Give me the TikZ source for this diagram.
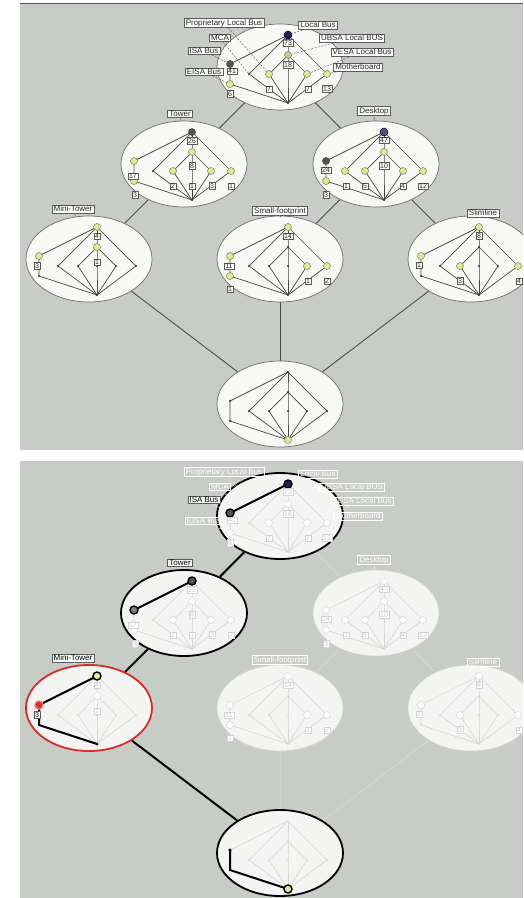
\documentclass[tikz,border=0pt]{standalone}
\usepackage{fontspec}
\setmainfont{Liberation Sans}
\usetikzlibrary{shapes.geometric}
\pgfdeclarelayer{bg}
\pgfsetlayers{bg,main}
\definecolor{bggray}{RGB}{200,204,199}
\definecolor{ellfill}{RGB}{248,248,245}
\definecolor{ellline}{RGB}{110,110,110}
\definecolor{connc}{RGB}{75,75,75}
\definecolor{latc}{RGB}{70,70,70}
\definecolor{ylw}{RGB}{228,232,150}
\definecolor{ylwg}{RGB}{200,200,150}
\definecolor{ylwline}{RGB}{120,120,80}
\definecolor{dkblue}{RGB}{30,30,95}
\definecolor{mdblue}{RGB}{80,80,145}
\definecolor{dkgray}{RGB}{85,85,85}
\definecolor{numline}{RGB}{90,90,90}
\definecolor{fadec}{RGB}{212,212,212}
\definecolor{fadetext}{RGB}{200,200,200}
\definecolor{ellfilltwo}{RGB}{244,244,242}
\definecolor{hlred}{RGB}{215,45,40}
\newcommand\tagfont{\fontsize{8}{9}\selectfont}
\newcommand\numfont{\fontsize{7}{8}\selectfont}
\tikzset{
  ell/.style={ellipse, draw=ellline, fill=ellfill, line width=0.7, minimum width=126, minimum height=86, inner sep=0},
  lat/.style={draw=latc, line width=0.7},
  conn/.style={draw=connc, line width=0.9},
  yn/.style={circle, draw=ylwline, fill=ylw, minimum size=7, inner sep=0, line width=0.5},
  yng/.style={circle, draw=ylwline, fill=ylwg, minimum size=7, inner sep=0, line width=0.5},
  bn/.style={circle, draw=black, fill=dkblue, minimum size=8, inner sep=0, line width=0.5},
  bntwo/.style={circle, draw=black, fill=mdblue, minimum size=8, inner sep=0, line width=0.5},
  gn/.style={circle, draw=black!80, fill=dkgray, minimum size=7, inner sep=0, line width=0.5},
  dn/.style={circle, fill=black!80, minimum size=2.2, inner sep=0},
  num/.style={draw=numline, fill=white, text=black!85, font=\numfont, inner xsep=1.3, inner ysep=0.8, line width=0.5},
  tag/.style={draw=numline, fill=white, text=black!85, font=\tagfont, inner xsep=1.8, inner ysep=0.9, line width=0.5},
  dsh/.style={draw=black!60, dashed, dash pattern=on 2pt off 1.5pt, line width=0.5},
  lk/.style={draw=black!60, line width=0.5},
  hltop/.style={}, hltow/.style={}, hlmini/.style={}, hlbot/.style={},
  hlc/.style={}, hlfix/.style={},
  hlline/.style={draw=black, line width=2},
  hlring/.style={circle, draw=black, line width=1.4, minimum size=8, inner sep=0}
}
\newcommand\mylatt[4]{%
  \begin{scope}[shift={(#2,#3)}]
    \node[ell,#4] (#1E) at (-8,32) {};
    \coordinate (#1T) at (0,0);
    \coordinate (#1A) at (0,20);
    \coordinate (#1X1) at (-58,29);
    \coordinate (#1X2) at (-58,49);
    \coordinate (#1L1) at (-39,39);
    \coordinate (#1L2) at (-19,39);
    \coordinate (#1C) at (0,39);
    \coordinate (#1R2) at (19,39);
    \coordinate (#1R1) at (39,39);
    \coordinate (#1B) at (0,68);
  \end{scope}
  \draw[lat] (#1T) -- (#1X1) -- (#1X2) -- (#1B);
  \draw[lat] (#1T) -- (#1L1) -- (#1B);
  \draw[lat] (#1T) -- (#1A) -- (#1C) -- (#1B);
  \draw[lat] (#1A) -- (#1L2) -- (#1B);
  \draw[lat] (#1A) -- (#1R2) -- (#1B);
  \draw[lat] (#1T) -- (#1R1) -- (#1B);
}
\newcommand\myhl{%
  \draw[hlline] (btopT) -- (btopX1);
  \node[hlring, fill=dkblue] (hA1) at (btopT) {};
  \node[hlring, fill=dkgray] (hA2) at (btopX1) {};
  \draw[hlline] (btowT) -- (btowX1);
  \node[hlring, fill=dkgray] (hB1) at (btowT) {};
  \node[hlring, fill=gray] (hB2) at (btowX1) {};
  \draw[hlline] (bminiT) -- (bminiX1) -- (bminiX2) -- (bminiB);
  \node[hlring, fill=ylw] (hC1) at (bminiT) {};
  \node[hlring, fill=hlred, draw=hlred!60!white] (hC2) at (bminiX1) {};
  \node[circle, fill=black, minimum size=3, inner sep=0] (hC3) at (bminiB) {};
  \draw[hlline] (bbotX1) -- (bbotX2) -- (bbotB);
  \node[circle, fill=black, minimum size=3.5, inner sep=0] (hD1) at (bbotX1) {};
  \node[hlring, fill=ylw] (hD2) at (bbotB) {};
}
\newcommand\myscene[2]{%
  \mylatt{#1top}{288}{35}{hltop}
  \mylatt{#1tow}{192}{132}{hltow}
  \mylatt{#1desk}{384}{132}{}
  \mylatt{#1mini}{97}{227}{hlmini}
  \mylatt{#1small}{288}{227}{}
  \mylatt{#1slim}{479}{227}{}
  \mylatt{#1bot}{288}{372}{hlbot}
  \begin{pgfonlayer}{bg}
    \draw[conn,hlc] (#1topE) -- (#1towE);
    \draw[conn] (#1topE) -- (#1deskE);
    \draw[conn,hlc] (#1towE) -- (#1miniE);
    \draw[conn] (#1deskE) -- (#1smallE);
    \draw[conn] (#1deskE) -- (#1slimE);
    \draw[conn,hlc] (#1miniE) -- (#1botE);
    \draw[conn] (#1smallE) -- (#1botE);
    \draw[conn] (#1slimE) -- (#1botE);
  \end{pgfonlayer}
  % attribute tags of the top concept
  \node[tag] (#1tProp) at (224,23) {Proprietary Local Bus};
  \node[tag] (#1tLoc) at (318,25) {Local Bus};
  \node[tag] (#1tMCA) at (220,38) {MCA};
  \node[tag] (#1tUBSA) at (352,38) {UBSA Local BUS};
  \node[tag,hlfix] (#1tISA) at (204,51) {ISA Bus};
  \node[tag] (#1tVESA) at (362,52) {VESA Local Bus};
  \node[tag] (#1tEISA) at (204,72) {EISA Bus};
  \node[tag] (#1tMoth) at (358,67) {Motherboard};
  \draw[dsh] (#1tProp) -- (#1topL2);
  \draw[dsh] (#1tLoc) -- (#1topT);
  \draw[dsh] (#1tMCA) -- (#1topL1);
  \draw[dsh] (#1tUBSA) -- (#1topA);
  \draw[dsh] (#1tISA) -- (#1topX1);
  \draw[dsh] (#1tVESA) -- (#1topR2);
  \draw[dsh] (#1tEISA) -- (#1topX2);
  \draw[dsh] (#1tMoth) -- (#1topR1);
  % ellipse tags
  \node[tag,hlfix] (#1tTow) at (180,114) {Tower};
  \node[tag] (#1tDesk) at (374,111) {Desktop};
  \node[tag,hlfix] (#1tMini) at (73,209) {Mini-Tower};
  \node[tag] (#1tSmall) at (280,211) {Small-footprint};
  \node[tag] (#1tSlim) at (483,213) {Slimline};
  \draw[lk] (#1tTow) -- (#1towE);
  \draw[lk] (#1tDesk) -- (#1deskE);
  \draw[lk] (#1tMini) -- (#1miniE);
  \draw[lk] (#1tSmall) -- (#1smallE);
  \draw[lk] (#1tSlim) -- (#1slimE);
  % markers: top
  \node[bn] (#1topTn) at (#1topT) {};
  \node[yng] (#1topAn) at (#1topA) {};
  \node[gn] (#1topX1n) at (#1topX1) {};
  \node[yn] (#1topX2n) at (#1topX2) {};
  \node[dn] (#1topL1n) at (#1topL1) {};
  \node[yn] (#1topL2n) at (#1topL2) {};
  \node[yn] (#1topR2n) at (#1topR2) {};
  \node[yn] (#1topR1n) at (#1topR1) {};
  \node[dn] (#1topBn) at (#1topB) {};
  % markers: tower
  \node[gn] (#1towTn) at (#1towT) {};
  \node[yn] (#1towAn) at (#1towA) {};
  \node[yn] (#1towX1n) at (#1towX1) {};
  \node[yn] (#1towX2n) at (#1towX2) {};
  \node[dn] (#1towL1n) at (#1towL1) {};
  \node[yn] (#1towL2n) at (#1towL2) {};
  \node[yn] (#1towR2n) at (#1towR2) {};
  \node[yn] (#1towR1n) at (#1towR1) {};
  \node[dn] (#1towBn) at (#1towB) {};
  % markers: desktop
  \node[bntwo] (#1deskTn) at (#1deskT) {};
  \node[yn] (#1deskAn) at (#1deskA) {};
  \node[gn] (#1deskX1n) at (#1deskX1) {};
  \node[yn] (#1deskX2n) at (#1deskX2) {};
  \node[yn] (#1deskL1n) at (#1deskL1) {};
  \node[yn] (#1deskL2n) at (#1deskL2) {};
  \node[yn] (#1deskR2n) at (#1deskR2) {};
  \node[yn] (#1deskR1n) at (#1deskR1) {};
  \node[dn] (#1deskBn) at (#1deskB) {};
  % markers: mini-tower
  \node[yn] (#1miniTn) at (#1miniT) {};
  \node[yn] (#1miniAn) at (#1miniA) {};
  \node[yn] (#1miniX1n) at (#1miniX1) {};
  \node[dn] (#1miniX2n) at (#1miniX2) {};
  \node[dn] (#1miniL1n) at (#1miniL1) {};
  \node[dn] (#1miniL2n) at (#1miniL2) {};
  \node[dn] (#1miniCn) at (#1miniC) {};
  \node[dn] (#1miniR2n) at (#1miniR2) {};
  \node[dn] (#1miniR1n) at (#1miniR1) {};
  \node[dn] (#1miniBn) at (#1miniB) {};
  % markers: small-footprint
  \node[yn] (#1smallTn) at (#1smallT) {};
  \node[dn] (#1smallAn) at (#1smallA) {};
  \node[yn] (#1smallX1n) at (#1smallX1) {};
  \node[yn] (#1smallX2n) at (#1smallX2) {};
  \node[dn] (#1smallL1n) at (#1smallL1) {};
  \node[dn] (#1smallL2n) at (#1smallL2) {};
  \node[dn] (#1smallCn) at (#1smallC) {};
  \node[yn] (#1smallR2n) at (#1smallR2) {};
  \node[yn] (#1smallR1n) at (#1smallR1) {};
  \node[dn] (#1smallBn) at (#1smallB) {};
  % markers: slimline
  \node[yn] (#1slimTn) at (#1slimT) {};
  \node[dn] (#1slimAn) at (#1slimA) {};
  \node[yn] (#1slimX1n) at (#1slimX1) {};
  \node[dn] (#1slimX2n) at (#1slimX2) {};
  \node[dn] (#1slimL1n) at (#1slimL1) {};
  \node[yn] (#1slimL2n) at (#1slimL2) {};
  \node[dn] (#1slimCn) at (#1slimC) {};
  \node[dn] (#1slimR2n) at (#1slimR2) {};
  \node[yn] (#1slimR1n) at (#1slimR1) {};
  \node[dn] (#1slimBn) at (#1slimB) {};
  % markers: bottom
  \node[dn] (#1botTn) at (#1botT) {};
  \node[dn] (#1botAn) at (#1botA) {};
  \node[dn] (#1botX1n) at (#1botX1) {};
  \node[dn] (#1botX2n) at (#1botX2) {};
  \node[dn] (#1botL1n) at (#1botL1) {};
  \node[dn] (#1botL2n) at (#1botL2) {};
  \node[dn] (#1botCn) at (#1botC) {};
  \node[dn] (#1botR2n) at (#1botR2) {};
  \node[dn] (#1botR1n) at (#1botR1) {};
  \node[yn] (#1botBn) at (#1botB) {};
  #2
  % numbers: top
  \node[num] (#1n01) at (288,43) {73};
  \node[num] (#1n02) at (288,65) {18};
  \node[num] (#1n03) at (232,71) {41};
  \node[num] (#1n04) at (230,94) {6};
  \node[num] (#1n05) at (269,89) {7};
  \node[num] (#1n06) at (308,89) {7};
  \node[num] (#1n07) at (327,89) {13};
  % numbers: tower
  \node[num] (#1n11) at (192,141) {26};
  \node[num] (#1n12) at (192,166) {8};
  \node[num] (#1n13) at (133,176) {17};
  \node[num] (#1n14) at (135,195) {3};
  \node[num] (#1n15) at (173,186) {2};
  \node[num] (#1n16) at (192,186) {1};
  \node[num] (#1n17) at (212,186) {3};
  \node[num] (#1n18) at (231,186) {1};
  % numbers: desktop
  \node[num] (#1n21) at (384,140) {47};
  \node[num] (#1n22) at (384,166) {10};
  \node[num] (#1n23) at (326,170) {24};
  \node[num] (#1n24) at (326,195) {3};
  \node[num] (#1n25) at (346,186) {1};
  \node[num] (#1n26) at (365,186) {5};
  \node[num] (#1n27) at (403,186) {4};
  \node[num] (#1n28) at (423,186) {12};
  % numbers: mini-tower
  \node[num] (#1n31) at (97,236) {4};
  \node[num] (#1n32) at (97,262) {1};
  \node[num,hlfix] (#1n33) at (37,266) {3};
  % numbers: small-footprint
  \node[num] (#1n41) at (288,236) {14};
  \node[num] (#1n42) at (229,266) {11};
  \node[num] (#1n43) at (230,289) {1};
  \node[num] (#1n44) at (308,281) {1};
  \node[num] (#1n45) at (327,281) {2};
  % numbers: slimline
  \node[num] (#1n51) at (479,236) {8};
  \node[num] (#1n52) at (419,265) {1};
  \node[num] (#1n53) at (460,281) {3};
  \node[num] (#1n54) at (519,281) {4};
}
\begin{document}
\begin{tikzpicture}[x=1pt, y=-1pt]
  \useasboundingbox (0,0) rectangle (523,898);
  \clip (0,0) rectangle (523,898);
  \begin{pgfonlayer}{bg}
    \fill[white] (0,0) rectangle (523,898);
    \fill[bggray] (20,4) rectangle (523,450);
    \fill[bggray] (20,461) rectangle (523,898);
    \draw[dkgray, line width=1] (20,3.5) -- (523,3.5);
  \end{pgfonlayer}
  \myscene{a}{}
  \begin{scope}[shift={(0,449)},
      ell/.style={ellipse, draw=fadec, fill=ellfilltwo, line width=0.6, minimum width=126, minimum height=86, inner sep=0},
      lat/.style={draw=fadec, line width=0.6},
      conn/.style={draw=fadec, line width=0.9},
      yn/.style={circle, draw=fadec, fill=white, minimum size=7, inner sep=0, line width=0.5},
      yng/.style={yn}, bn/.style={yn}, bntwo/.style={yn}, gn/.style={yn},
      dn/.style={circle, fill=fadec, minimum size=2, inner sep=0},
      num/.style={draw=fadec, fill=white, text=fadetext, font=\numfont, inner xsep=1.3, inner ysep=0.8, line width=0.5},
      tag/.style={draw=white, text=white, font=\tagfont, inner xsep=1.8, inner ysep=0.9, line width=0.5},
      dsh/.style={draw=white!70!bggray, dashed, dash pattern=on 2pt off 1.5pt, line width=0.5},
      lk/.style={draw=white!70!bggray, line width=0.5},
      hltop/.style={draw=black, line width=1.8},
      hltow/.style={draw=black, line width=1.8},
      hlbot/.style={draw=black, line width=1.8},
      hlmini/.style={draw=hlred, line width=1.8},
      hlc/.style={draw=black, line width=2},
      hlfix/.style={draw=numline, text=black, fill=white}]
    \myscene{b}{\myhl}
  \end{scope}
\end{tikzpicture}
\end{document}
